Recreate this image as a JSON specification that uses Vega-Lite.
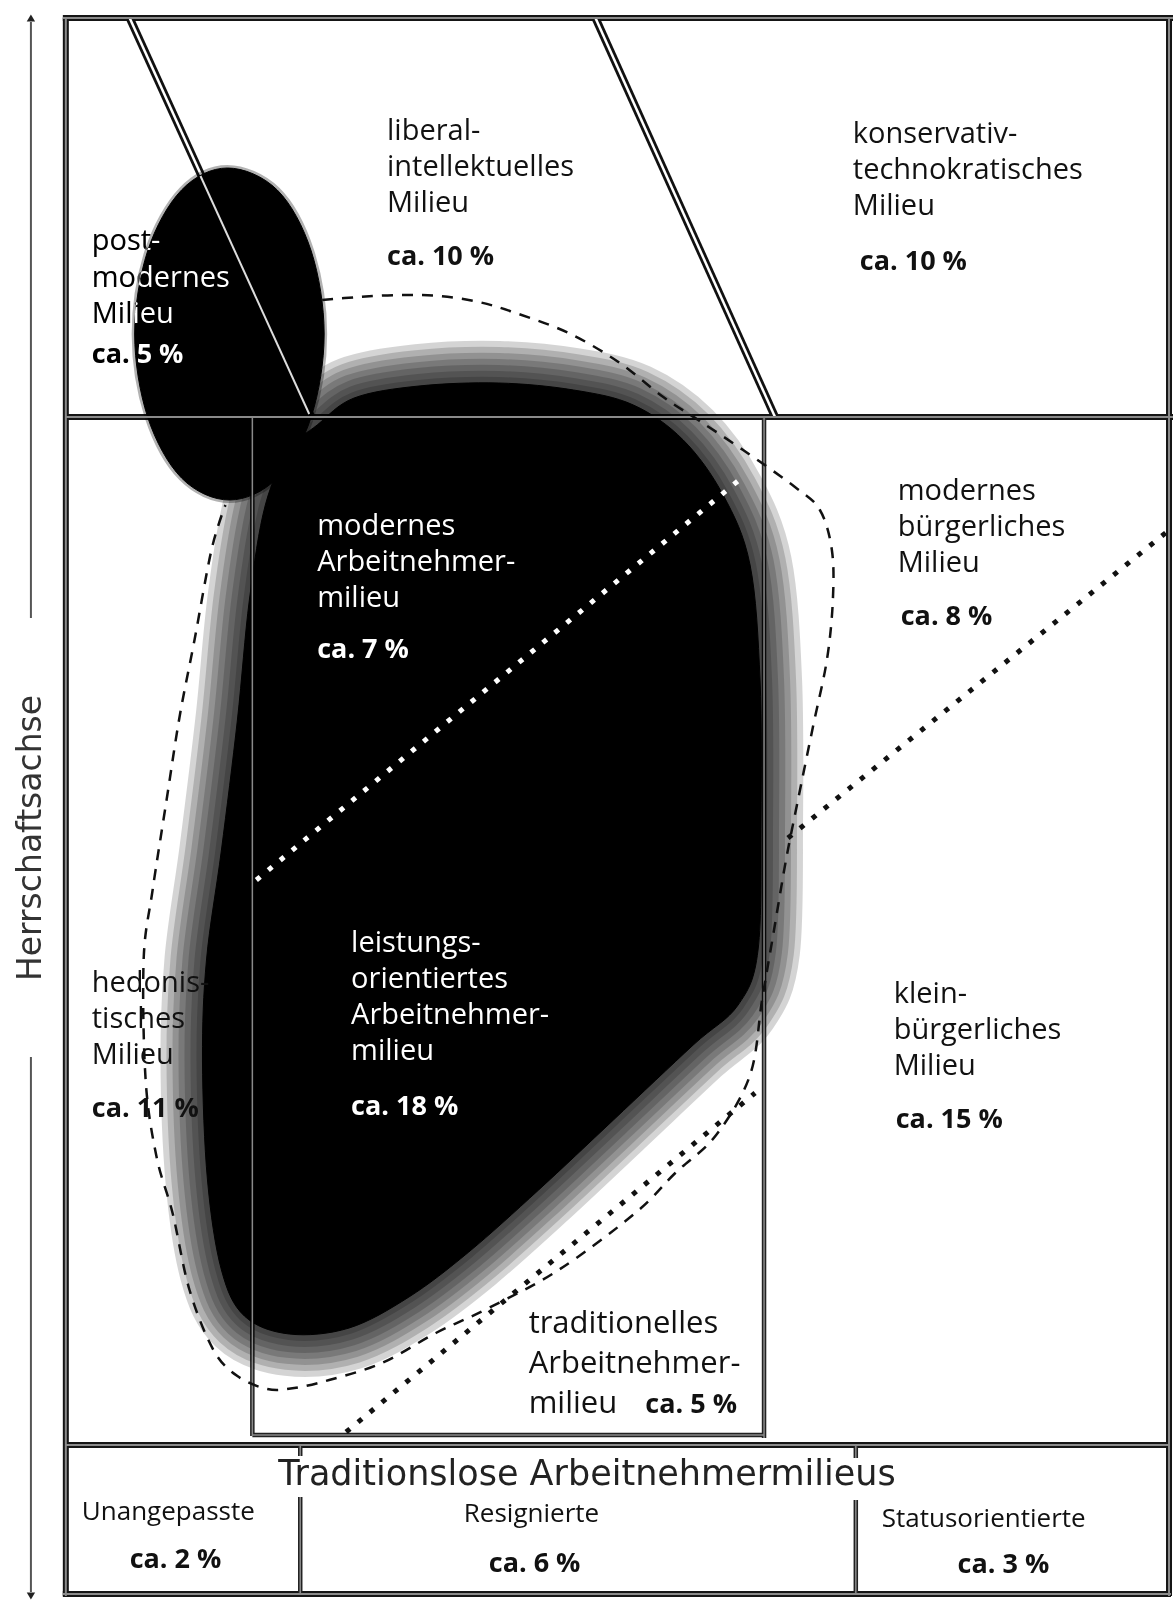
{
  "$schema": "https://vega.github.io/schema/vega-lite/v6.json",
  "width": 1176,
  "height": 1602,
  "autosize": {"type": "fit", "contains": "padding"},
  "padding": 0,
  "background": "white",
  "config": {"view": {"stroke": null}},
  "datasets": {
    "diag": [{"x": 130, "y": 18, "x2": 312, "y2": 417}, {"x": 597, "y": 18, "x2": 777, "y2": 417}],
    "diagWhite": [{"x": 201, "y": 176, "x2": 310, "y2": 414}],
    "frameOuter": [
      {"x": 63, "y": 18, "x2": 1176, "y2": 18},
      {"x": 66, "y": 18, "x2": 66, "y2": 1596},
      {"x": 63, "y": 1594, "x2": 1174, "y2": 1594},
      {"x": 1172, "y": 18, "x2": 1172, "y2": 1596},
      {"x": 66, "y": 417, "x2": 1176, "y2": 417},
      {"x": 66, "y": 1445, "x2": 1172, "y2": 1445}
    ],
    "frameInner": [
      {"x": 253, "y": 417, "x2": 253, "y2": 1436},
      {"x": 766, "y": 417, "x2": 766, "y2": 1438},
      {"x": 253, "y": 1435, "x2": 766, "y2": 1435},
      {"x": 301, "y": 1497, "x2": 301, "y2": 1594},
      {"x": 858, "y": 1500, "x2": 858, "y2": 1594},
      {"x": 301, "y": 1445, "x2": 301, "y2": 1456},
      {"x": 858, "y": 1445, "x2": 858, "y2": 1458}
    ],
    "axisLine": [{"x": 31, "y": 22, "x2": 31, "y2": 618}, {"x": 31, "y": 1057, "x2": 31, "y2": 1592}],
    "arrows": [{"x": 31, "y": 18, "end": "top"}, {"x": 31, "y": 1596, "end": "bottom"}],
    "dotsBlack": [{"x": 790, "y": 838, "x2": 1176, "y2": 527}, {"x": 347, "y": 1432, "x2": 757, "y2": 1093}],
    "dotsWhite": [{"x": 257, "y": 880, "x2": 741, "y2": 480}],
    "blob": [
      {"i": 1, "x": 318, "y": 425}, {"i": 2, "x": 355, "y": 398}, {"i": 3, "x": 420, "y": 386},
      {"i": 4, "x": 500, "y": 383}, {"i": 5, "x": 575, "y": 390}, {"i": 6, "x": 635, "y": 405},
      {"i": 7, "x": 685, "y": 440}, {"i": 8, "x": 725, "y": 495}, {"i": 9, "x": 752, "y": 565},
      {"i": 10, "x": 762, "y": 680}, {"i": 11, "x": 763, "y": 820}, {"i": 12, "x": 760, "y": 950},
      {"i": 13, "x": 740, "y": 1005}, {"i": 14, "x": 695, "y": 1045}, {"i": 15, "x": 615, "y": 1120},
      {"i": 16, "x": 540, "y": 1190}, {"i": 17, "x": 470, "y": 1252}, {"i": 18, "x": 410, "y": 1297},
      {"i": 19, "x": 350, "y": 1328}, {"i": 20, "x": 290, "y": 1334}, {"i": 21, "x": 245, "y": 1316},
      {"i": 22, "x": 222, "y": 1270}, {"i": 23, "x": 208, "y": 1180}, {"i": 24, "x": 203, "y": 1060},
      {"i": 25, "x": 207, "y": 960}, {"i": 26, "x": 222, "y": 850}, {"i": 27, "x": 238, "y": 720},
      {"i": 28, "x": 250, "y": 600}, {"i": 29, "x": 266, "y": 505}, {"i": 30, "x": 290, "y": 450}
    ],
    "ellipse": [
      {"i": 1, "x": 325, "y": 334}, {"i": 2, "x": 312, "y": 251}, {"i": 3, "x": 278, "y": 190},
      {"i": 4, "x": 228, "y": 168}, {"i": 5, "x": 182, "y": 190}, {"i": 6, "x": 148, "y": 251},
      {"i": 7, "x": 135, "y": 334}, {"i": 8, "x": 148, "y": 417}, {"i": 9, "x": 182, "y": 478},
      {"i": 10, "x": 230, "y": 500}, {"i": 11, "x": 278, "y": 478}, {"i": 12, "x": 312, "y": 417}
    ],
    "dashed": [
      {"i": 1, "x": 323, "y": 300}, {"i": 2, "x": 360, "y": 297}, {"i": 3, "x": 400, "y": 295},
      {"i": 4, "x": 440, "y": 296}, {"i": 5, "x": 480, "y": 302}, {"i": 6, "x": 517, "y": 313},
      {"i": 7, "x": 570, "y": 333}, {"i": 8, "x": 620, "y": 362}, {"i": 9, "x": 665, "y": 397},
      {"i": 10, "x": 700, "y": 420}, {"i": 11, "x": 745, "y": 450}, {"i": 12, "x": 797, "y": 487},
      {"i": 13, "x": 822, "y": 510}, {"i": 14, "x": 834, "y": 550}, {"i": 15, "x": 835, "y": 600},
      {"i": 16, "x": 829, "y": 660}, {"i": 17, "x": 815, "y": 727}, {"i": 18, "x": 800, "y": 800},
      {"i": 19, "x": 788, "y": 860}, {"i": 20, "x": 776, "y": 930}, {"i": 21, "x": 764, "y": 1000},
      {"i": 22, "x": 752, "y": 1075}, {"i": 23, "x": 718, "y": 1135}, {"i": 24, "x": 677, "y": 1173},
      {"i": 25, "x": 637, "y": 1213}, {"i": 26, "x": 560, "y": 1270}, {"i": 27, "x": 490, "y": 1308},
      {"i": 28, "x": 437, "y": 1333}, {"i": 29, "x": 383, "y": 1363}, {"i": 30, "x": 330, "y": 1380},
      {"i": 31, "x": 295, "y": 1388}, {"i": 32, "x": 268, "y": 1389}, {"i": 33, "x": 238, "y": 1376},
      {"i": 34, "x": 214, "y": 1350}, {"i": 35, "x": 190, "y": 1290}, {"i": 36, "x": 173, "y": 1213},
      {"i": 37, "x": 157, "y": 1157}, {"i": 38, "x": 146, "y": 1080}, {"i": 39, "x": 144, "y": 960},
      {"i": 40, "x": 153, "y": 890}, {"i": 41, "x": 167, "y": 800}, {"i": 42, "x": 180, "y": 717},
      {"i": 43, "x": 195, "y": 640}, {"i": 44, "x": 212, "y": 550}, {"i": 45, "x": 226, "y": 505}
    ],
    "labelsBlack": [
      {"x": 388, "y": 140, "t": "liberal-\nintellektuelles\nMilieu"},
      {"x": 855, "y": 143, "t": "konservativ-\ntechnokratisches\nMilieu"},
      {"x": 900, "y": 500, "t": "modernes\nbürgerliches\nMilieu"},
      {"x": 92, "y": 992, "t": "hedonis-\ntisches\nMilieu"},
      {"x": 896, "y": 1003, "t": "klein-\nbürgerliches\nMilieu"}
    ],
    "labelsTrad": [{"x": 530, "y": 1333, "t": "traditionelles\nArbeitnehmer-"}],
    "labelsTrad2": [{"x": 530, "y": 1413, "t": "milieu"}],
    "pctBlack": [
      {"x": 388, "y": 265, "t": "ca. 10 %"}, {"x": 862, "y": 270, "t": "ca. 10 %"}, {"x": 903, "y": 625, "t": "ca. 8 %"},
      {"x": 92, "y": 1117, "t": "ca. 11 %"}, {"x": 898, "y": 1128, "t": "ca. 15 %"}, {"x": 647, "y": 1413, "t": "ca. 5 %"}
    ],
    "labelsWhite": [
      {"x": 318, "y": 535, "t": "modernes\nArbeitnehmer-\nmilieu"},
      {"x": 352, "y": 952, "t": "leistungs-\norientiertes\nArbeitnehmer-\nmilieu"}
    ],
    "pctWhite": [{"x": 318, "y": 658, "t": "ca. 7 %"}, {"x": 352, "y": 1115, "t": "ca. 18 %"}],
    "postLabel": [{"x": 92, "y": 250, "t": "post-\nmodernes\nMilieu"}],
    "postPct": [{"x": 92, "y": 363, "t": "ca. 5 %"}],
    "bottomLabels": [
      {"x": 82, "y": 1520, "t": "Unangepasste"}, {"x": 465, "y": 1522, "t": "Resignierte"}, {"x": 884, "y": 1527, "t": "Statusorientierte"}
    ],
    "bottomPct": [{"x": 130, "y": 1568, "t": "ca. 2 %"}, {"x": 490, "y": 1572, "t": "ca. 6 %"}, {"x": 960, "y": 1573, "t": "ca. 3 %"}],
    "title": [{"x": 279, "y": 1485, "t": "Traditionslose Arbeitnehmermilieus"}],
    "axisLabel": [{"x": 31, "y": 838, "t": "Herrschaftsachse"}]
  },
  "encoding": {
    "x": {"field": "x", "type": "quantitative", "scale": {"domain": [0, 1176], "nice": false, "zero": false}, "axis": null},
    "y": {"field": "y", "type": "quantitative", "scale": {"domain": [0, 1602], "nice": false, "zero": false, "reverse": true}, "axis": null}
  },
  "layer": [
    {"data": {"name": "frameOuter"}, "mark": {"type": "rule", "color": "#151515", "strokeWidth": 6}, "encoding": {"x2": {"field": "x2"}, "y2": {"field": "y2"}}},
    {"data": {"name": "frameInner"}, "mark": {"type": "rule", "color": "#222", "strokeWidth": 4.5}, "encoding": {"x2": {"field": "x2"}, "y2": {"field": "y2"}}},
    {"data": {"name": "diag"}, "mark": {"type": "rule", "color": "#111", "strokeWidth": 8}, "encoding": {"x2": {"field": "x2"}, "y2": {"field": "y2"}}},
    {"data": {"name": "diag"}, "mark": {"type": "rule", "color": "white", "strokeWidth": 2.5}, "encoding": {"x2": {"field": "x2"}, "y2": {"field": "y2"}}},
    {"data": {"name": "blob"}, "mark": {"type": "line", "interpolate": "cardinal-closed", "stroke": "black", "strokeWidth": 84, "strokeOpacity": 0.17, "strokeJoin": "round"}, "encoding": {"order": {"field": "i", "type": "quantitative"}}},
    {"data": {"name": "blob"}, "mark": {"type": "line", "interpolate": "cardinal-closed", "stroke": "black", "strokeWidth": 72, "strokeOpacity": 0.17, "strokeJoin": "round"}, "encoding": {"order": {"field": "i", "type": "quantitative"}}},
    {"data": {"name": "blob"}, "mark": {"type": "line", "interpolate": "cardinal-closed", "stroke": "black", "strokeWidth": 60, "strokeOpacity": 0.17, "strokeJoin": "round"}, "encoding": {"order": {"field": "i", "type": "quantitative"}}},
    {"data": {"name": "blob"}, "mark": {"type": "line", "interpolate": "cardinal-closed", "stroke": "black", "strokeWidth": 48, "strokeOpacity": 0.17, "strokeJoin": "round"}, "encoding": {"order": {"field": "i", "type": "quantitative"}}},
    {"data": {"name": "blob"}, "mark": {"type": "line", "interpolate": "cardinal-closed", "stroke": "black", "strokeWidth": 36, "strokeOpacity": 0.17, "strokeJoin": "round"}, "encoding": {"order": {"field": "i", "type": "quantitative"}}},
    {"data": {"name": "blob"}, "mark": {"type": "line", "interpolate": "cardinal-closed", "stroke": "black", "strokeWidth": 24, "strokeOpacity": 0.17, "strokeJoin": "round"}, "encoding": {"order": {"field": "i", "type": "quantitative"}}},
    {"data": {"name": "blob"}, "mark": {"type": "line", "interpolate": "cardinal-closed", "stroke": "black", "strokeWidth": 12, "strokeOpacity": 0.17, "strokeJoin": "round"}, "encoding": {"order": {"field": "i", "type": "quantitative"}}},
    {"data": {"name": "blob"}, "mark": {"type": "line", "interpolate": "cardinal-closed", "stroke": "black", "strokeWidth": 1, "fill": "black"}, "encoding": {"order": {"field": "i", "type": "quantitative"}}},
    {"data": {"name": "ellipse"}, "mark": {"type": "line", "interpolate": "cardinal-closed", "stroke": "black", "strokeWidth": 6, "strokeOpacity": 0.3}, "encoding": {"order": {"field": "i", "type": "quantitative"}}},
    {"data": {"name": "ellipse"}, "mark": {"type": "line", "interpolate": "cardinal-closed", "stroke": "black", "strokeWidth": 1, "fill": "black"}, "encoding": {"order": {"field": "i", "type": "quantitative"}}},
    {"data": {"name": "diagWhite"}, "mark": {"type": "rule", "color": "#ddd", "strokeWidth": 2}, "encoding": {"x2": {"field": "x2"}, "y2": {"field": "y2"}}},
    {"data": {"name": "frameOuter"}, "mark": {"type": "rule", "color": "#8a8a8a", "strokeWidth": 2}, "encoding": {"x2": {"field": "x2"}, "y2": {"field": "y2"}}},
    {"data": {"name": "frameInner"}, "mark": {"type": "rule", "color": "#8a8a8a", "strokeWidth": 1.5}, "encoding": {"x2": {"field": "x2"}, "y2": {"field": "y2"}}},
    {"data": {"name": "dashed"}, "mark": {"type": "line", "interpolate": "cardinal", "stroke": "#111", "strokeWidth": 2.5, "strokeDash": [11, 9]}, "encoding": {"order": {"field": "i", "type": "quantitative"}}},
    {"data": {"name": "dotsBlack"}, "mark": {"type": "rule", "color": "#111", "strokeWidth": 5, "strokeDash": [5, 10.5], "strokeCap": "butt"}, "encoding": {"x2": {"field": "x2"}, "y2": {"field": "y2"}}},
    {"data": {"name": "dotsWhite"}, "mark": {"type": "rule", "color": "white", "strokeWidth": 5, "strokeDash": [5, 10.5], "strokeCap": "butt"}, "encoding": {"x2": {"field": "x2"}, "y2": {"field": "y2"}}},
    {"data": {"name": "axisLine"}, "mark": {"type": "rule", "color": "#555", "strokeWidth": 2}, "encoding": {"x2": {"field": "x2"}, "y2": {"field": "y2"}}},
    {"data": {"name": "arrows"}, "mark": {"type": "point", "filled": true, "color": "#222", "size": 70, "opacity": 1},
      "encoding": {"shape": {"field": "end", "type": "nominal", "scale": {"domain": ["top", "bottom"], "range": ["triangle-up", "triangle-down"]}, "legend": null}}},
    {"data": {"name": "labelsBlack"}, "mark": {"type": "text", "align": "left", "baseline": "alphabetic", "font": "Open Sans", "fontSize": 29, "lineBreak": "\n", "lineHeight": 36, "color": "#111"}, "encoding": {"text": {"field": "t"}}},
    {"data": {"name": "labelsTrad"}, "mark": {"type": "text", "align": "left", "baseline": "alphabetic", "font": "Open Sans", "fontSize": 31, "lineBreak": "\n", "lineHeight": 40, "color": "#111"}, "encoding": {"text": {"field": "t"}}},
    {"data": {"name": "labelsTrad2"}, "mark": {"type": "text", "align": "left", "baseline": "alphabetic", "font": "Open Sans", "fontSize": 31, "color": "#111"}, "encoding": {"text": {"field": "t"}}},
    {"data": {"name": "pctBlack"}, "mark": {"type": "text", "align": "left", "baseline": "alphabetic", "font": "Open Sans", "fontSize": 27, "fontWeight": "bold", "color": "#111"}, "encoding": {"text": {"field": "t"}}},
    {"data": {"name": "labelsWhite"}, "mark": {"type": "text", "align": "left", "baseline": "alphabetic", "font": "Open Sans", "fontSize": 29, "lineBreak": "\n", "lineHeight": 36, "color": "white"}, "encoding": {"text": {"field": "t"}}},
    {"data": {"name": "pctWhite"}, "mark": {"type": "text", "align": "left", "baseline": "alphabetic", "font": "Open Sans", "fontSize": 27, "fontWeight": "bold", "color": "white"}, "encoding": {"text": {"field": "t"}}},
    {"data": {"name": "postLabel"}, "mark": {"type": "text", "align": "left", "baseline": "alphabetic", "font": "Open Sans", "fontSize": 29, "lineBreak": "\n", "lineHeight": 36.5, "color": "white", "blend": "difference"}, "encoding": {"text": {"field": "t"}}},
    {"data": {"name": "postPct"}, "mark": {"type": "text", "align": "left", "baseline": "alphabetic", "font": "Open Sans", "fontSize": 27, "fontWeight": "bold", "color": "white", "blend": "difference"}, "encoding": {"text": {"field": "t"}}},
    {"data": {"name": "bottomLabels"}, "mark": {"type": "text", "align": "left", "baseline": "alphabetic", "font": "Open Sans", "fontSize": 26, "color": "#111"}, "encoding": {"text": {"field": "t"}}},
    {"data": {"name": "bottomPct"}, "mark": {"type": "text", "align": "left", "baseline": "alphabetic", "font": "Open Sans", "fontSize": 27, "fontWeight": "bold", "color": "#111"}, "encoding": {"text": {"field": "t"}}},
    {"data": {"name": "title"}, "mark": {"type": "text", "align": "left", "baseline": "alphabetic", "font": "DejaVu Sans", "fontSize": 35, "color": "#222"}, "encoding": {"text": {"field": "t"}}},
    {"data": {"name": "axisLabel"}, "mark": {"type": "text", "align": "center", "baseline": "middle", "angle": 270, "font": "DejaVu Sans", "fontSize": 33, "color": "#333"}, "encoding": {"text": {"field": "t"}}}
  ]
}
